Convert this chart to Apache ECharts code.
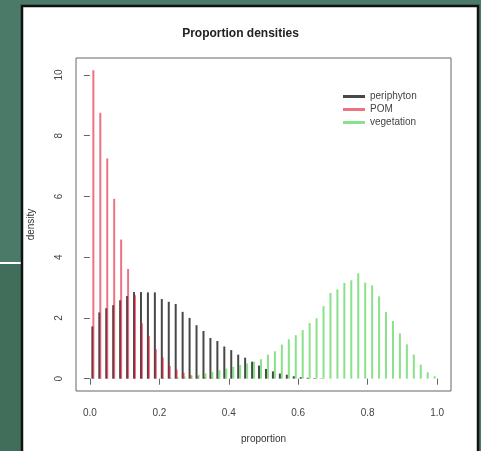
<!DOCTYPE html>
<html><head><meta charset="utf-8">
<script src="https://cdn.jsdelivr.net/npm/echarts@6/dist/echarts.min.js"></script>
<style>html,body{margin:0;padding:0;background:#4c7a68;}#c{width:481px;height:451px;}</style>
</head><body><div id="c"></div>
<script>
const proportion = [0.01,0.03,0.05,0.07,0.09,0.11,0.13,0.15,0.17,0.19,0.21,0.23,0.25,0.27,0.29,0.31,0.33,0.35,0.37,0.39,0.41,0.43,0.45,0.47,0.49,0.51,0.53,0.55,0.57,0.59,0.61,0.63,0.65,0.67,0.69,0.71,0.73,0.75,0.77,0.79,0.81,0.83,0.85,0.87,0.89,0.91,0.93,0.95,0.97,0.99];
const periphyton = [1.72,2.18,2.32,2.42,2.58,2.72,2.85,2.85,2.84,2.84,2.62,2.53,2.46,2.2,2.0,1.76,1.57,1.34,1.24,1.06,0.94,0.79,0.69,0.56,0.43,0.32,0.24,0.17,0.13,0.08,0.05,0.03,0.02,0.01,0,0,0,0,0,0,0,0,0,0,0,0,0,0,0,0];
const pom = [10.15,8.75,7.25,5.92,4.58,3.61,2.75,1.82,1.4,0.97,0.7,0.42,0.3,0.2,0.12,0.08,0.05,0.03,0.02,0.01,0,0,0,0,0,0,0,0,0,0,0,0,0,0,0,0,0,0,0,0,0,0,0,0,0,0,0,0,0,0];
const vegetation = [0,0,0,0,0,0,0,0,0,0,0.02,0.03,0.05,0.07,0.1,0.13,0.17,0.22,0.28,0.33,0.39,0.45,0.5,0.56,0.64,0.79,0.9,1.12,1.3,1.43,1.6,1.83,1.99,2.39,2.82,2.94,3.15,3.24,3.47,3.16,3.07,2.71,2.19,1.9,1.49,1.13,0.79,0.46,0.21,0.08];
const xTicks = [0, 0.2, 0.4, 0.6, 0.8, 1.0];
const xTickLabels = ["0.0","0.2","0.4","0.6","0.8","1.0"];
const yTicks = [0, 2, 4, 6, 8, 10];
const yTickLabels = ["0","2","4","6","8","10"];

const pair = arr => proportion.map((x, i) => [x, arr[i]]);
const font = "Liberation Sans, Arial, sans-serif";
const chart = echarts.init(document.getElementById('c'), null, {renderer: 'canvas'});
chart.setOption({
  backgroundColor: '#4c7a68',
  animation: false,
  graphic: [
    {type: 'rect', z: -100, shape: {x: 0, y: 264, width: 22, height: 187}, style: {fill: '#416e5b'}},
    {type: 'rect', z: -100, shape: {x: 0, y: 262, width: 22, height: 2}, style: {fill: '#ffffff'}},
    {type: 'rect', z: -100, shape: {x: 22, y: 6, width: 456, height: 450}, style: {fill: '#ffffff', stroke: '#111', lineWidth: 2.5}}
  ],
  title: {
    text: 'Proportion densities', left: 'center', top: 23,
    textStyle: {fontFamily: font, fontSize: 12, fontWeight: 'bold', color: '#222'}
  },
  legend: {
    orient: 'vertical', left: 338, top: 85, itemWidth: 22, itemHeight: 3, itemGap: 0,
    icon: 'rect',
    textStyle: {fontFamily: font, fontSize: 10, color: '#444', lineHeight: 13},
    data: ['periphyton', 'POM', 'vegetation']
  },
  grid: {left: 76, right: 30, top: 58, bottom: 60, show: true, borderColor: '#666', borderWidth: 1, backgroundColor: 'transparent'},
  xAxis: {
    type: 'value', min: -0.04, max: 1.04,
    name: 'proportion', nameLocation: 'middle', nameGap: 43,
    nameTextStyle: {fontFamily: font, fontSize: 10, color: '#333'},
    axisLine: {show: false},
    splitLine: {show: false},
    axisTick: {show: true, length: 6, inside: false, customValues: xTicks, lineStyle: {color: '#666'}},
    axisLabel: {customValues: xTicks, margin: 17, fontFamily: font, fontSize: 10, color: '#444',
      formatter: v => xTickLabels[xTicks.findIndex(t => Math.abs(t - v) < 1e-9)] ?? ''}
  },
  yAxis: {
    type: 'value', min: -0.406, max: 10.556,
    name: 'density', nameLocation: 'middle', nameGap: 40, nameRotate: 90,
    nameTextStyle: {fontFamily: font, fontSize: 10, color: '#333'},
    axisLine: {show: false},
    splitLine: {show: false},
    axisTick: {show: true, length: 6, inside: false, customValues: yTicks, lineStyle: {color: '#666'}},
    axisLabel: {customValues: yTicks, rotate: 90, margin: 12, fontFamily: font, fontSize: 10, color: '#444',
      formatter: v => yTickLabels[yTicks.findIndex(t => Math.abs(t - v) < 1e-9)] ?? ''}
  },
  series: [
    {name: 'periphyton', type: 'bar', data: pair(periphyton), barWidth: 2, barGap: '-50%',
      itemStyle: {color: 'rgba(20,20,20,0.78)'}},
    {name: 'POM', type: 'bar', data: pair(pom), barWidth: 2, barGap: '-50%',
      itemStyle: {color: 'rgba(225,20,50,0.6)'}},
    {name: 'vegetation', type: 'bar', data: pair(vegetation), barWidth: 2, barGap: '-50%',
      itemStyle: {color: 'rgba(40,200,40,0.55)'}}
  ]
});
</script></body></html>
